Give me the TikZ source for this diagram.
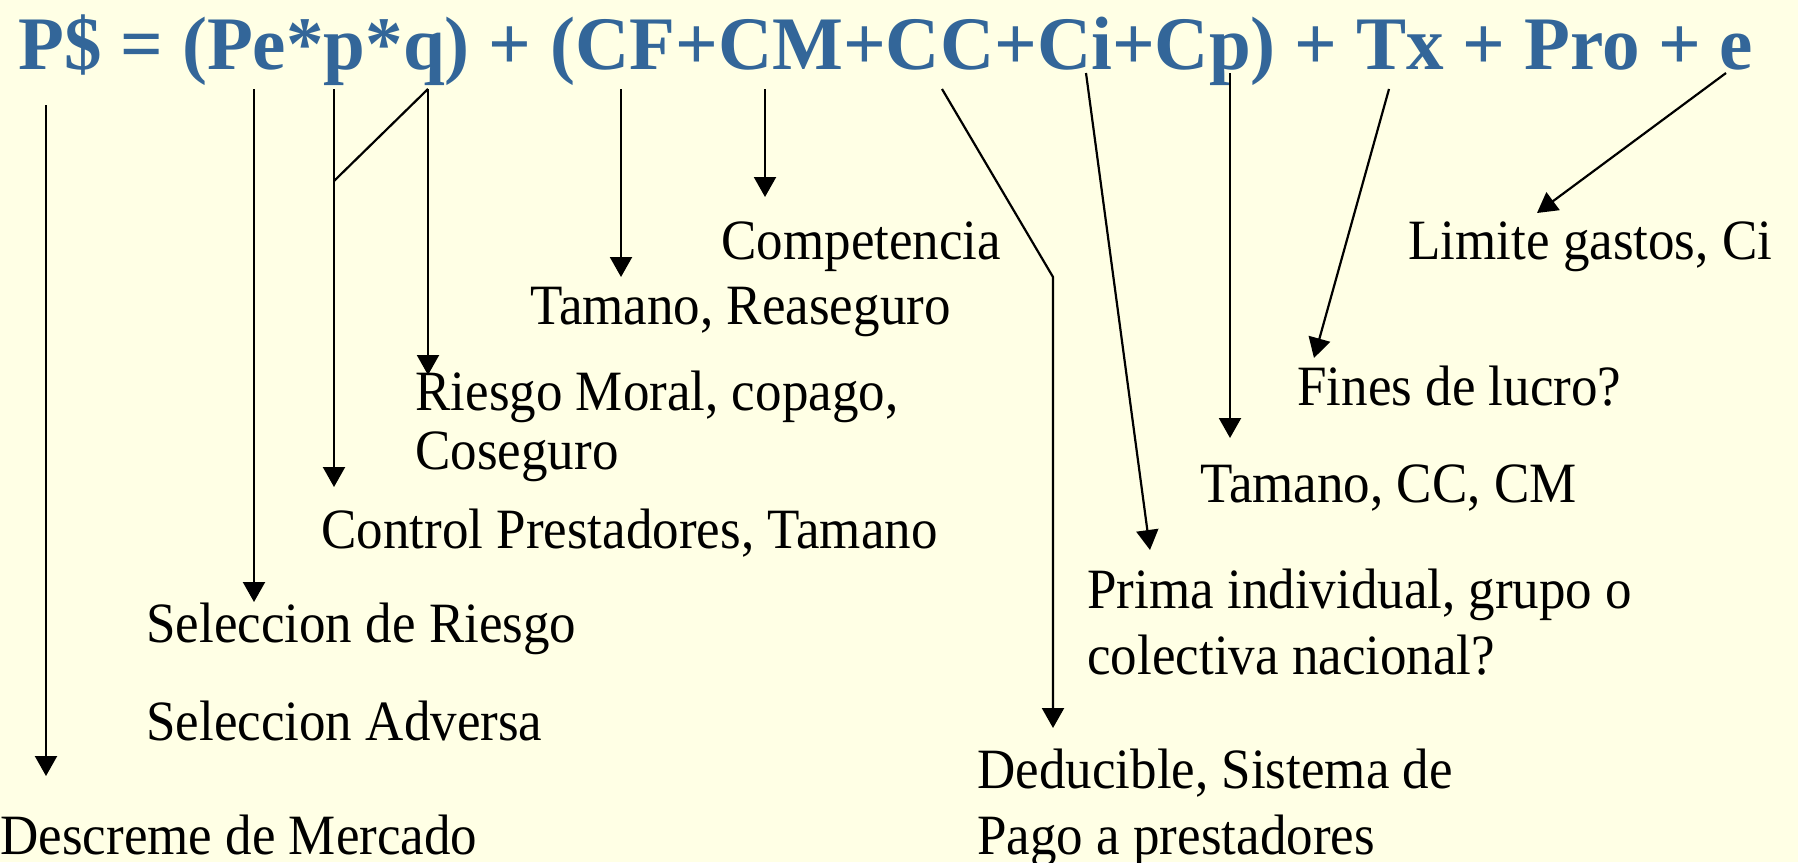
\documentclass[tikz,border=0pt]{standalone}
\usepackage{fontspec}
\setmainfont{Liberation Serif}[FakeStretch=0.93]
\newfontfamily\titlefont{Liberation Serif}[FakeStretch=0.993]
\usetikzlibrary{arrows.meta}
\definecolor{bgyellow}{RGB}{255,255,229}
\definecolor{titleblue}{RGB}{51,102,153}

\begin{document}
\begin{tikzpicture}[x=0.5pt, y=-0.5pt,
    txt/.style={anchor=base west, inner sep=0pt, align=left, font=\fontsize{28.5}{32.8}\selectfont},
    arrow/.style={-{Triangle[length=10pt, width=11pt]}, line width=1.1pt},
    link/.style={line width=1.1pt}
]
\fill[bgyellow] (0,0) rectangle (1798,862);
\useasboundingbox (0,0) rectangle (1798,862);

\node[anchor=base west, inner sep=0pt, text=titleblue, font=\titlefont\bfseries\fontsize{37.8}{40}\selectfont] (formula) at (18,69) {P\$ = (Pe*p*q) + (CF+CM+CC+Ci+Cp) + Tx + Pro + e};

% labels (multi-line ones sit on their last line)
\node[txt] (competencia) at (721,259) {Competencia};
\node[txt] (reaseguro) at (530,324) {Tamano, Reaseguro};
\node[txt, font=\fontsize{28.5}{29.3}\selectfont] (moral) at (415,469) {Riesgo Moral, copago,\\Coseguro};
\node[txt] (control) at (321,548) {Control Prestadores, Tamano};
\node[txt] (selriesgo) at (146,642) {Seleccion de Riesgo};
\node[txt] (seladversa) at (146,740) {Seleccion Adversa};
\node[txt] (descreme) at (0,854) {Descreme de Mercado};
\node[txt] (deducible) at (977,854) {Deducible, Sistema de\\Pago a prestadores};
\node[txt] (prima) at (1087,674) {Prima individual, grupo o\\colectiva nacional?};
\node[txt] (tamano) at (1200,502) {Tamano, CC, CM};
\node[txt] (lucro) at (1297,405) {Fines de lucro?};
\node[txt] (limite) at (1408,259) {Limite gastos, Ci};

% start and end points
\coordinate (sP) at (46,105);   \coordinate (eP) at (46,776);
\coordinate (sPe) at (254,89);  \coordinate (ePe) at (254,602);
\coordinate (sp) at (334,89);   \coordinate (ep) at (334,487);
\coordinate (kp) at (334,181);
\coordinate (sq) at (428,89);   \coordinate (eq) at (428,375);
\coordinate (sCF) at (621,89);  \coordinate (eCF) at (621,277);
\coordinate (sCM) at (765,89);  \coordinate (eCM) at (765,197);
\coordinate (sCC) at (942,89);  \coordinate (kCC) at (1053,277);
\coordinate (eCC) at (1053,728);
\coordinate (sCi) at (1086,73); \coordinate (eCi) at (1150,550);
\coordinate (sCp) at (1230,73); \coordinate (eCp) at (1230,438);
\coordinate (sTx) at (1389,89); \coordinate (eTx) at (1314,358);
\coordinate (se) at (1726,73);  \coordinate (ee) at (1537,213);

\draw[arrow] (sP) -- (eP);
\draw[arrow] (sPe) -- (ePe);
\draw[arrow] (sp) -- (ep);
\draw[link] (kp) -- (sq);
\draw[arrow] (sq) -- (eq);
\draw[arrow] (sCF) -- (eCF);
\draw[arrow] (sCM) -- (eCM);
\draw[arrow] (sCC) -- (kCC) -- (eCC);
\draw[arrow] (sCi) -- (eCi);
\draw[arrow] (sCp) -- (eCp);
\draw[arrow] (sTx) -- (eTx);
\draw[arrow] (se) -- (ee);

\end{tikzpicture}
\end{document}
